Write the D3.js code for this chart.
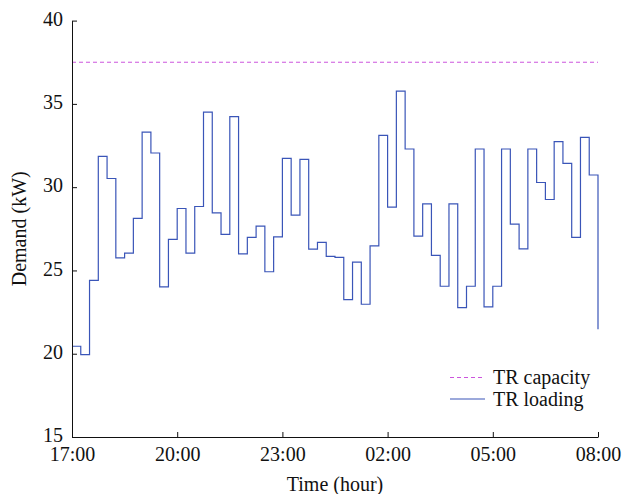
<!DOCTYPE html>
<html>
<head>
<meta charset="utf-8">
<script src="https://cdn.jsdelivr.net/npm/d3@7"></script>
<style>
  body { margin: 0; background: #fff; }
  svg { display: block; }
  text { font-family: "Liberation Serif", "Times New Roman", serif; fill: #111; }
</style>
</head>
<body>
<svg id="chart" width="630" height="494"></svg>
<script>
// 15-minute steps from 17:00 to 08:00 (60 intervals), last value is the 08:00 end point
var loading = [
  20.45, 19.95, 24.4, 31.85, 30.52, 25.76, 26.04, 28.12, 33.31, 32.05,
  24.01, 26.86, 28.72, 26.04, 28.84, 34.51, 28.46, 27.16, 34.23, 26.0,
  26.98, 27.66, 24.92, 27.02, 31.73, 28.32, 31.67, 26.28, 26.68, 25.84,
  25.78, 23.25, 25.5, 22.97, 26.48, 33.11, 28.8, 35.77, 32.29, 27.06,
  29.0, 25.9, 24.05, 29.0, 22.77, 24.05, 32.29, 22.81, 24.05, 32.29,
  27.78, 26.3, 32.29, 30.28, 29.26, 32.73, 31.43, 26.98, 32.99, 30.73,
  21.47
];
var capacity = 37.5;
var xTicks = [0, 3, 6, 9, 12, 15];           // hours after 17:00
var xTickLabels = ["17:00", "20:00", "23:00", "02:00", "05:00", "08:00"];
var yTicks = [15, 20, 25, 30, 35, 40];
var legendNames = ["TR capacity", "TR loading"];

var LOAD_COLOR = "#3a55b8";
var CAP_COLOR = "#cc55dd";
var FONT = "20px";

var svg = d3.select("#chart");
var margin = { left: 72, right: 32, top: 20.6, bottom: 57 };
var W = 630, H = 494;

var x = d3.scaleLinear().domain([0, 15]).range([margin.left, W - margin.right]);
var y = d3.scaleLinear().domain([15, 40]).range([H - margin.bottom, margin.top]);

var pts = loading.map(function (v, i) { return [i * 0.25, v]; });

var line = d3.line()
    .x(function (d) { return x(d[0]); })
    .y(function (d) { return y(d[1]); })
    .curve(d3.curveStepAfter);

// capacity line
svg.append("line")
    .attr("x1", x(0)).attr("x2", x(15))
    .attr("y1", y(capacity)).attr("y2", y(capacity))
    .style("stroke", CAP_COLOR)
    .style("stroke-width", 1)
    .style("stroke-dasharray", "4,3");

svg.append("path")
    .datum(pts)
    .attr("d", line)
    .style("fill", "none")
    .style("stroke", LOAD_COLOR)
    .style("stroke-width", 1.2);

// axes, ticks pointing inward
var xAxis = d3.axisBottom(x)
    .tickValues(xTicks)
    .tickFormat(function (d, i) { return xTickLabels[i]; })
    .tickSizeInner(-5).tickSizeOuter(0).tickPadding(10);
var gx = svg.append("g")
    .attr("transform", "translate(0," + y(15) + ")")
    .call(xAxis);
gx.selectAll("text").style("font-size", FONT);

var yAxis = d3.axisLeft(y)
    .tickValues(yTicks)
    .tickSizeInner(-5).tickSizeOuter(0).tickPadding(9);
var gy = svg.append("g")
    .attr("transform", "translate(" + x(0) + ",0)")
    .call(yAxis);
gy.selectAll("text").style("font-size", FONT).attr("dy", "0.24em");

svg.selectAll(".domain").style("stroke", "#111");
svg.selectAll(".tick line").style("stroke", "#111");
svg.selectAll(".tick text").style("font-family", "Liberation Serif").style("fill", "#111");

// axis titles
svg.append("text")
    .attr("x", (x(0) + x(15)) / 2)
    .attr("y", 491)
    .attr("text-anchor", "middle")
    .style("font-size", FONT)
    .text("Time (hour)");

svg.append("text")
    .attr("transform", "translate(26," + (y(27.5)) + ") rotate(-90)")
    .attr("text-anchor", "middle")
    .style("font-size", FONT)
    .text("Demand (kW)");

// legend
var legend = svg.append("g").attr("transform", "translate(450,377.5)");
legendNames.forEach(function (name, i) {
    var g = legend.append("g").attr("transform", "translate(0," + (i * 21.5) + ")");
    g.append("line")
        .attr("x1", 0).attr("x2", 35)
        .style("stroke", i === 0 ? CAP_COLOR : LOAD_COLOR)
        .style("stroke-width", i === 0 ? 1 : 1.2)
        .style("stroke-dasharray", i === 0 ? "4,3" : null);
    g.append("text")
        .attr("x", 43).attr("y", 0).attr("dy", "0.33em")
        .style("font-size", FONT)
        .text(name);
});
</script>
</body>
</html>
